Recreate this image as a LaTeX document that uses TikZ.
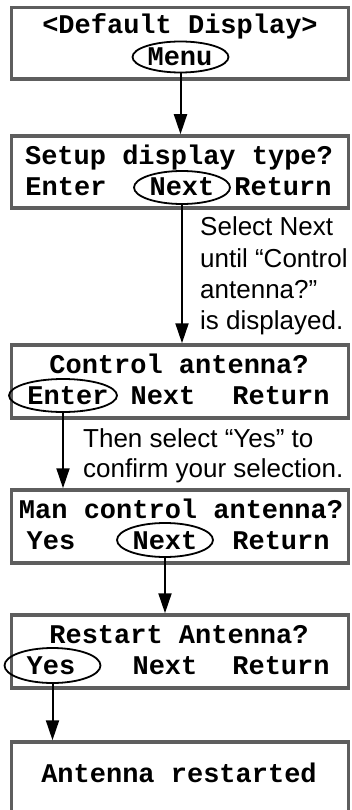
\documentclass[tikz,border=0pt]{standalone}
\usepackage{fontspec}
\usetikzlibrary{arrows.meta,shapes.geometric}
\newfontfamily\lcdfont{Liberation Mono}
\newfontfamily\notefont{Liberation Sans}
\definecolor{boxgray}{HTML}{5E5E5E}
\tikzset{
  screen/.style={draw=boxgray, line width=3.5pt, fill=white, minimum width=337pt, inner sep=0pt},
  lcd/.style={anchor=base, inner sep=0pt, font=\lcdfont\bfseries\fontsize{27}{30}\selectfont},
  oval/.style={draw=black, ellipse, line width=1.8pt, inner sep=0pt},
  note/.style={anchor=base west, inner sep=0pt, font=\notefont\fontsize{26}{31}\selectfont},
  flow/.style={line width=2pt, -{Triangle[length=20pt,width=13pt]}}
}
\begin{document}
\begin{tikzpicture}[x=1pt,y=-1pt]
\useasboundingbox (0,0) rectangle (351,810);
% screens
\node[screen, minimum height=71.5pt] (b1) at (180,43.25) {};
\node[screen, minimum height=72pt] (b2) at (180,172) {};
\node[screen, minimum height=73pt] (b3) at (180,381.5) {};
\node[screen, minimum height=73pt] (b4) at (180,526.5) {};
\node[screen, minimum height=73pt] (b5) at (180,651.5) {};
\node[screen, minimum height=160pt] (b6) at (180,822) {};
% ovals
\node[oval, minimum width=96pt, minimum height=31pt] (e1) at (180.5,57) {};
\node[oval, minimum width=96pt, minimum height=33pt] (e2) at (182,187.5) {};
\node[oval, minimum width=108pt, minimum height=33pt] (e3) at (63,395.5) {};
\node[oval, minimum width=96pt, minimum height=34pt] (e4) at (165,540) {};
\node[oval, minimum width=96pt, minimum height=35pt] (e5) at (52.5,665.5) {};
% screen texts
\node[lcd] (t1a) at (180,34) {<Default Display>};
\node[lcd] (t1b) at (180,66) {Menu};
\node[lcd] (t2a) at (179,165) {Setup display type?};
\node[lcd] (t2b) at (66,195.5) {Enter};
\node[lcd] (t2c) at (182,195.5) {Next};
\node[lcd] (t2d) at (283,195.5) {Return};
\node[lcd] (t3a) at (179,373) {Control antenna?};
\node[lcd] (t3b) at (68,404) {Enter};
\node[lcd] (t3c) at (163,404) {Next};
\node[lcd] (t3d) at (281,404) {Return};
\node[lcd] (t4a) at (181,518) {Man control antenna?};
\node[lcd] (t4b) at (51,549) {Yes};
\node[lcd] (t4c) at (165,549) {Next};
\node[lcd] (t4d) at (281,549) {Return};
\node[lcd] (t5a) at (179,643) {Restart Antenna?};
\node[lcd] (t5b) at (51,674) {Yes};
\node[lcd] (t5c) at (165,674) {Next};
\node[lcd] (t5d) at (281,674) {Return};
\node[lcd] (t6a) at (179,782) {Antenna restarted};
% notes
\node[note] (n1) at (200,236) {Select Next};
\node[note] (n2) at (200,267) {until “Control};
\node[note] (n3) at (200,298) {antenna?”};
\node[note] (n4) at (200,329) {is displayed.};
\node[note] (n5) at (83,447) {Then select “Yes” to};
\node[note] (n6) at (83,477) {confirm your selection.};
% connectors
\draw[flow] (e1.south) -- (b2.north -| e1.south);
\draw[flow] (e2.south) -- (b3.north -| e2.south);
\draw[flow] (e3.south) -- (b4.north -| e3.south);
\draw[flow] (e4.south) -- (b5.north -| e4.south);
\draw[flow] (e5.south) -- (b6.north -| e5.south);
\end{tikzpicture}
\end{document}
